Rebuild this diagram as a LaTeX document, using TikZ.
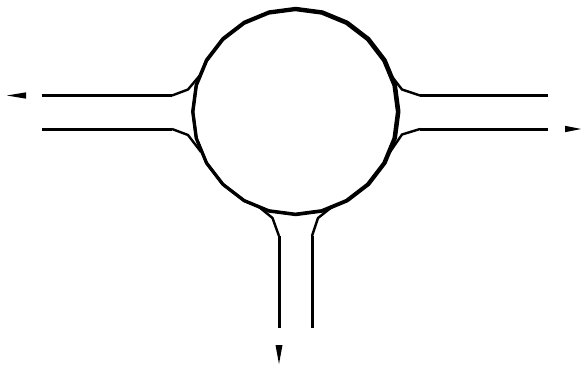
\documentclass[tikz,border=0pt]{standalone}
\begin{document}
\begin{tikzpicture}[x=1pt,y=-1pt,
  ring/.style={line width=3pt,line join=round,black},
  channel/.style={line width=3pt,line join=round,black},
  neck/.style={line width=2.4pt,line join=round,black},
  tip/.style={fill=black,draw=none}]
\useasboundingbox (0,0) rectangle (581,369);
% ring: two nearly coincident 24-sided outlines
\foreach \r/\dx/\dy in {102.2/-0.3/0.2,103.2/0.3/-0.2}{
  \draw[ring] (295.5+\dx+\r,111.7+\dy)
    \foreach \a in {15,30,...,345}{ -- ({295.5+\dx+\r*cos(\a)},{111.7+\dy+\r*sin(\a)}) } -- cycle;
}
% left channel
\draw[channel] (42,95.5) -- (172,95.5);
\draw[neck] (172,95.5) -- (188,89.5) -- (201,74);
\draw[channel] (42,129) -- (172,129);
\draw[neck] (172,129) -- (188,135) -- (201,152);
% right channel
\draw[channel] (548,95.5) -- (420,95.5);
\draw[neck] (420,95.5) -- (402,89.5) -- (390,74);
\draw[channel] (548,129) -- (420,129);
\draw[neck] (420,129) -- (402,134.5) -- (390,152);
% bottom channel
\draw[channel] (279,328) -- (279,236);
\draw[neck] (279,236) -- (272.5,218) -- (259,207);
\draw[channel] (312,328) -- (312,236);
\draw[neck] (312,236) -- (318,218) -- (332,207);
% arrowheads
\fill[tip] (7,95.5) -- (26,92.3) -- (26,98.7) -- cycle;
\fill[tip] (581,129) -- (565,125.8) -- (565,132.2) -- cycle;
\fill[tip] (279,364) -- (275.5,345) -- (282.5,345) -- cycle;
\end{tikzpicture}
\end{document}
